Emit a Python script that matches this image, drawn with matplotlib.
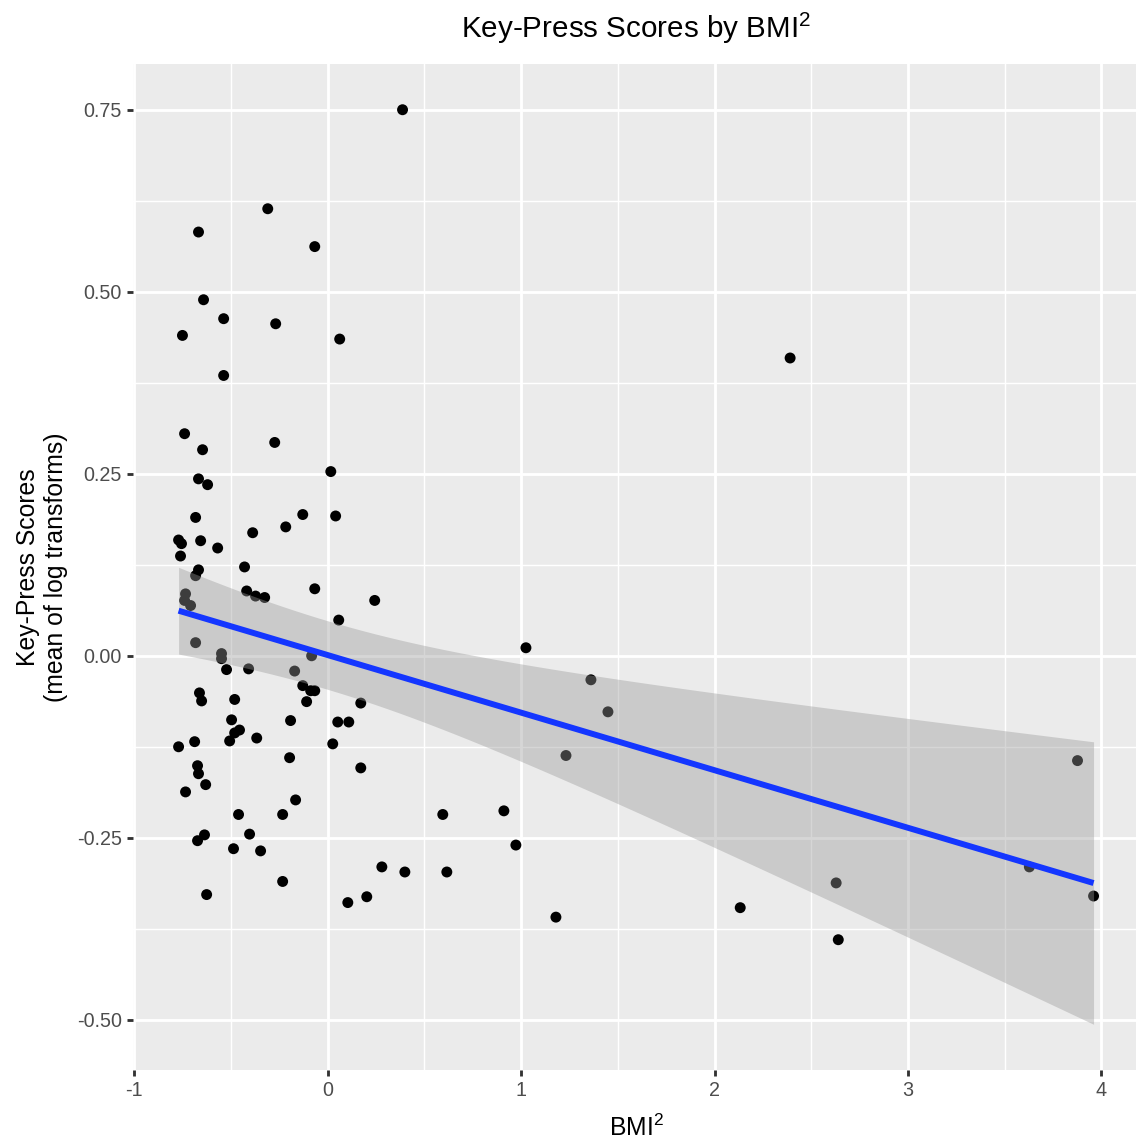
import numpy as np
import matplotlib
matplotlib.use("Agg")
import matplotlib.pyplot as plt

# ---- data ----
bmi2 = [0.387, -0.31, -0.668, -0.067, -0.642, -0.538, -0.269, 0.062, -0.751, -0.538,
        2.391, -0.740, -0.274, -0.647, 0.016, -0.668, -0.621, -0.683, -0.129, 0.041,
        -0.217, -0.388, -0.771, -0.756, -0.657, -0.569, -0.761, -0.430, -0.668, -0.683,
        -0.067, -0.419, -0.373, -0.326, -0.735, -0.740, -0.709, 0.243, 0.057, -0.683,
        1.025, -0.549, -0.549, -0.523, -0.409, -0.171, -0.083, 1.361, -0.129, -0.088,
        -0.067, -0.663, -0.652, -0.481, -0.109, 0.171, 1.449, 0.052, 0.109, -0.192,
        -0.497, -0.456, -0.481, -0.367, -0.507, -0.688, -0.771, 0.026, 1.232, -0.197,
        -0.673, 3.877, -0.668, 0.171, -0.631, -0.735, -0.166, 0.911, -0.461, -0.233,
        0.595, -0.404, -0.637, -0.673, 0.973, -0.487, -0.347, 0.280, 3.628, 0.399,
        0.616, -0.233, 2.629, -0.626, 0.202, 3.960, 0.104, 1.180, 2.133, 2.640]
scores = [0.75, 0.614, 0.582, 0.562, 0.489, 0.463, 0.456, 0.435, 0.440, 0.385,
          0.409, 0.305, 0.293, 0.283, 0.253, 0.243, 0.235, 0.190, 0.194, 0.192,
          0.177, 0.169, 0.159, 0.154, 0.158, 0.148, 0.137, 0.122, 0.118, 0.110,
          0.092, 0.089, 0.082, 0.080, 0.085, 0.076, 0.069, 0.076, 0.049, 0.018,
          0.011, 0.003, -0.004, -0.019, -0.018, -0.021, 0.000, -0.033, -0.041, -0.048,
          -0.048, -0.051, -0.062, -0.060, -0.063, -0.065, -0.077, -0.091, -0.091, -0.089,
          -0.088, -0.102, -0.106, -0.113, -0.117, -0.118, -0.125, -0.121, -0.137, -0.140,
          -0.151, -0.144, -0.162, -0.154, -0.177, -0.187, -0.198, -0.213, -0.218, -0.218,
          -0.218, -0.245, -0.246, -0.254, -0.260, -0.265, -0.268, -0.290, -0.290, -0.297,
          -0.297, -0.310, -0.312, -0.328, -0.331, -0.330, -0.339, -0.359, -0.346, -0.390]

x_ticks = [-1, 0, 1, 2, 3, 4]
x_tick_labels = ["-1", "0", "1", "2", "3", "4"]
y_ticks = [-0.50, -0.25, 0.00, 0.25, 0.50, 0.75]
y_tick_labels = ["-0.50", "-0.25", "0.00", "0.25", "0.50", "0.75"]

title = "Key-Press Scores by BMI$\\mathregular{^2}$"
x_label = "BMI$\\mathregular{^2}$"
y_label = "Key-Press Scores\n(mean of log transforms)"

# ---- style ----
S = 1.6  # ggplot pt -> matplotlib pt at dpi 100
plt.rcParams['font.family'] = ['Liberation Sans', 'DejaVu Sans']
plt.rcParams['mathtext.fontset'] = 'custom'
plt.rcParams['mathtext.rm'] = 'Liberation Sans'

W, H = 1136, 1142
fig = plt.figure(figsize=(W / 100, H / 100), dpi=100)
fig.patch.set_facecolor('white')

# ---- linear fit with 95% CI (geom_smooth(method="lm")) ----
x = np.asarray(bmi2)
y = np.asarray(scores)
n = len(x)
xbar = x.mean()
sxx = np.sum((x - xbar) ** 2)
b1 = np.sum((x - xbar) * (y - y.mean())) / sxx
b0 = y.mean() - b1 * xbar
resid = y - (b0 + b1 * x)
s = np.sqrt(np.sum(resid ** 2) / (n - 2))
tcrit = 1.9845  # t(0.975, df=98)
xg = np.linspace(x.min(), x.max(), 80)
yg = b0 + b1 * xg
se = s * np.sqrt(1.0 / n + (xg - xbar) ** 2 / sxx)
lo = yg - tcrit * se
hi = yg + tcrit * se

# ---- limits with ggplot 5% expansion ----
xr = x.max() - x.min()
xlim = (x.min() - 0.05 * xr, x.max() + 0.05 * xr)
ymin = min(y.min(), lo.min())
ymax = max(y.max(), hi.max())
yr = ymax - ymin
ylim = (ymin - 0.05 * yr, ymax + 0.05 * yr)

# axes placement in pixels (panel extends slightly past the right edge, as in reference)
px_per_x = 193.4
left_px = 134.3 + (xlim[0] - (-1)) * px_per_x
right_px = 1101.3 + (xlim[1] - 4) * px_per_x
top_px, bottom_px = 64.0, 1070.0
ax = fig.add_axes([left_px / W, (H - bottom_px) / H,
                   (right_px - left_px) / W, (bottom_px - top_px) / H])
ax.set_facecolor('#EBEBEB')
for sp in ax.spines.values():
    sp.set_visible(False)
ax.set_xlim(*xlim)
ax.set_ylim(*ylim)

# grid
major_lw = 0.5 * 2.845 * S * 0.9
for v in x_ticks:
    ax.axvline(v, color='white', lw=major_lw, zorder=1)
for v in y_ticks:
    ax.axhline(v, color='white', lw=major_lw, zorder=1)
for v in np.arange(-0.5, 4.6, 1.0):
    ax.axvline(v, color='white', lw=major_lw / 2, zorder=0.9)
for v in np.arange(-0.625, 0.9, 0.25):
    ax.axhline(v, color='white', lw=major_lw / 2, zorder=0.9)

# points, then ribbon above, then line
ax.scatter(x, y, s=62, color='black', edgecolors='none', zorder=2)
ax.fill_between(xg, lo, hi, color='#999999', alpha=0.4, linewidth=0, zorder=3)
ax.plot(xg, yg, color='#1436FF', lw=4.3, zorder=4, solid_capstyle='butt')

# ticks
ax.set_xticks(x_ticks)
ax.set_xticklabels(x_tick_labels)
ax.set_yticks(y_ticks)
ax.set_yticklabels(y_tick_labels)
ax.tick_params(axis='both', which='major', length=2.75 * S, width=major_lw,
               color='#333333', labelcolor='#4D4D4D', labelsize=14.2,
               pad=2.2 * S)

ax.set_xlabel(x_label, fontsize=17.8, color='black', labelpad=10.5)
ax.set_ylabel(y_label, fontsize=17.8, color='black', labelpad=6.5,
              linespacing=1.22)

# title centered over panel
panel_center = ((left_px + right_px) / 2) / W
fig.text(panel_center, 1 - 28.0 / H, title, ha='center', va='center',
         fontsize=21.3, color='black')

fig.savefig('out.png', dpi=100, facecolor='white')
